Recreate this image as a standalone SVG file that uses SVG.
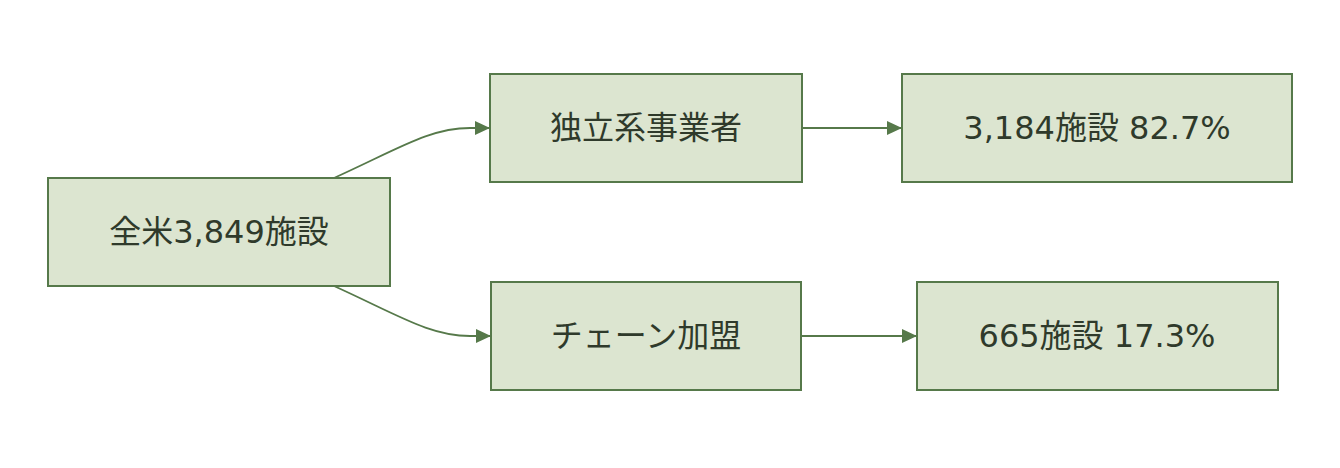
<svg xmlns="http://www.w3.org/2000/svg" width="1340" height="468" viewBox="0 0 1340 468">
<defs>
<style>
.box{fill:#dce5d0;stroke:#56794a;stroke-width:2}
.lbl{font-family:"DejaVu Sans","Noto Sans CJK JP",sans-serif;font-size:32px;fill:#2f3a2b;text-anchor:middle;dominant-baseline:central}
.edge{fill:none;stroke:#56794a;stroke-width:1.8}
</style>
<marker id="arrow" viewBox="0 0 15 14" refX="15" refY="7" markerWidth="15" markerHeight="14" markerUnits="userSpaceOnUse" orient="auto">
<path d="M0,0 L15,7 L0,14 z" fill="#56794a"/>
</marker>
</defs>
<rect width="1340" height="468" fill="#ffffff"/>
<g id="connectors">
<path class="edge" d="M334,178 C400,148 430,128 470,128 L490,128" marker-end="url(#arrow)"/>
<path class="edge" d="M334,286 C400,316 430,336 470,336 L491,336" marker-end="url(#arrow)"/>
<path class="edge" d="M802,128 L902,128" marker-end="url(#arrow)"/>
<path class="edge" d="M801,336 L917,336" marker-end="url(#arrow)"/>
</g>
<g id="node-all">
<rect class="box" x="48" y="178" width="342" height="108"/>
<text class="lbl" x="219" y="232">全米3,849施設</text>
</g>
<g id="node-independent">
<rect class="box" x="490" y="74" width="312" height="108"/>
<text class="lbl" x="646" y="128">独立系事業者</text>
</g>
<g id="node-independent-count">
<rect class="box" x="902" y="74" width="390" height="108"/>
<text class="lbl" x="1097" y="128">3,184施設 82.7%</text>
</g>
<g id="node-chain">
<rect class="box" x="491" y="282" width="310" height="108"/>
<text class="lbl" x="646" y="336">チェーン加盟</text>
</g>
<g id="node-chain-count">
<rect class="box" x="917" y="282" width="361" height="108"/>
<text class="lbl" x="1097" y="336">665施設 17.3%</text>
</g>
</svg>
